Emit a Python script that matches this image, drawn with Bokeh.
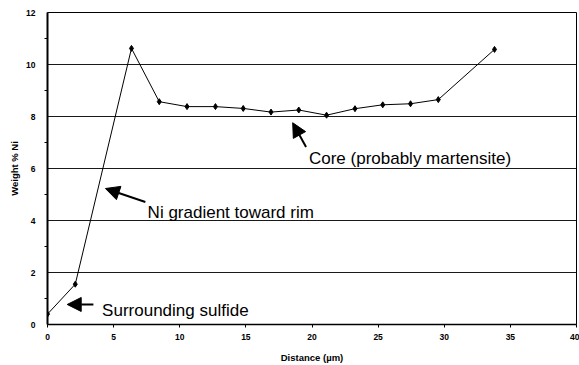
from bokeh.plotting import figure
from bokeh.models import Range1d, Arrow, NormalHead, FixedTicker, ColumnDataSource, Label
from bokeh.embed import file_html
from bokeh.resources import INLINE

distance = [0.0, 2.1, 6.35, 8.45, 10.55, 12.7, 14.8, 16.9, 19.0, 21.1, 23.25, 25.35, 27.45, 29.55, 33.8]
ni_pct = [0.40, 1.55, 10.62, 8.57, 8.38, 8.38, 8.31, 8.17, 8.25, 8.05, 8.30, 8.45, 8.49, 8.65, 10.58]

x_ticks = [0, 5, 10, 15, 20, 25, 30, 35, 40]
y_ticks = [0, 2, 4, 6, 8, 10, 12]

notes = ["Surrounding sulfide", "Ni gradient toward rim", "Core (probably martensite)"]
note_x = [4.13, 7.57, 19.77]
note_y = [0.52, 4.29, 6.40]
arrow_tail_x = [3.47, 7.40, 19.55]
arrow_tail_y = [0.77, 4.71, 6.83]
arrow_tip_x = [1.49, 4.38, 18.54]
arrow_tip_y = [0.77, 5.23, 7.76]

FONT = "Liberation Sans"

p = figure(width=579, height=365, output_backend="svg", toolbar_location=None,
           x_range=Range1d(0, 40), y_range=Range1d(0, 12),
           min_border_left=47, min_border_right=3, min_border_top=12, min_border_bottom=41)
p.background_fill_color = "white"
p.border_fill_color = "white"
p.outline_line_color = "black"
p.outline_line_width = 1

p.xgrid.grid_line_color = None
p.ygrid.grid_line_color = "black"
p.ygrid.grid_line_width = 1
p.ygrid.grid_line_alpha = 0.9

p.xaxis.ticker = FixedTicker(ticks=x_ticks)
p.yaxis.ticker = FixedTicker(ticks=y_ticks, minor_ticks=[1, 3, 5, 7, 9, 11])

for ax in (p.xaxis, p.yaxis):
    ax.axis_line_color = "black"
    ax.major_tick_line_color = "black"
    ax.minor_tick_line_color = "black"
    ax.major_label_text_font = FONT
    ax.major_label_text_font_style = "bold"
    ax.major_label_text_font_size = "8.5px"
    ax.major_label_text_color = "black"
    ax.axis_label_text_font = FONT
    ax.axis_label_text_font_style = "bold"
    ax.axis_label_text_font_size = "9.5px"
    ax.axis_label_text_color = "black"

p.xaxis.axis_label = "Distance (µm)"
p.yaxis.axis_label = "Weight % Ni"
p.xaxis.axis_line_width = 1.5
p.yaxis.axis_line_width = 2
p.xaxis.major_tick_in = 0
p.xaxis.major_tick_out = 3
p.xaxis.minor_tick_out = 0
p.xaxis.minor_tick_in = 0
p.xaxis.major_label_standoff = 6
p.xaxis.axis_label_standoff = 9
p.yaxis.major_tick_in = 0
p.yaxis.major_tick_out = 0
p.yaxis.minor_tick_in = 0
p.yaxis.minor_tick_out = 3
p.yaxis.major_label_standoff = 9
p.yaxis.axis_label_standoff = 3

src = ColumnDataSource(dict(x=distance, y=ni_pct))
p.line("x", "y", source=src, line_color="black", line_width=1)
p.scatter("x", "y", source=src, marker="diamond", size=6, fill_color="black", line_color="black")

for i in range(len(notes)):
    p.add_layout(Arrow(end=NormalHead(size=14, fill_color="black", line_color="black"),
                       x_start=arrow_tail_x[i], y_start=arrow_tail_y[i],
                       x_end=arrow_tip_x[i], y_end=arrow_tip_y[i],
                       line_color="black", line_width=2))
    p.add_layout(Label(x=note_x[i], y=note_y[i], text=notes[i], text_font=FONT,
                       text_font_size="17px", text_color="black", text_baseline="alphabetic"))

open("out.html", "w").write(file_html(p, INLINE))
